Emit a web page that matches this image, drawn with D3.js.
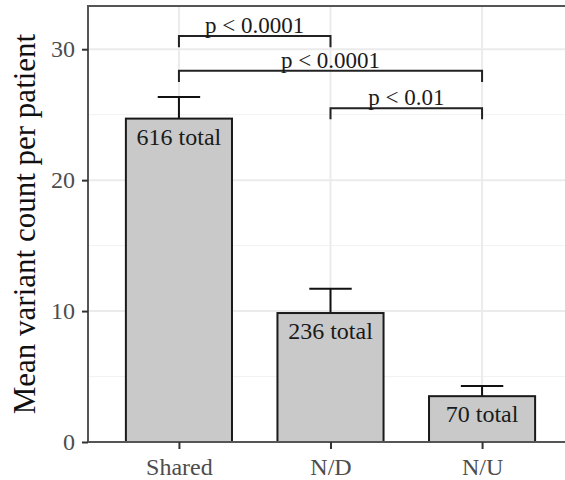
<!DOCTYPE html>
<html lang="en">

<head>
    <meta charset="UTF-8" />
    <script src="https://d3js.org/d3.v7.min.js"></script>
    <title>Mean variant count</title>
    <style>
        body { margin: 0; background: #fff; }
        text { font-family: "Liberation Serif", "Times New Roman", serif; }
    </style>
</head>

<body>
    <script>
        const width = 565,
            height = 480

        // data
        const categories = ['Shared', 'N/D', 'N/U']
        const means = [24.7, 9.85, 3.5]
        const upper = [26.35, 11.7, 4.27]
        const totals = ['616 total', '236 total', '70 total']
        const yTicks = [0, 10, 20, 30]
        const yMinor = [5, 15, 25]
        const pairs = [[0, 1], [0, 2], [1, 2]]
        const pairY = [31.0, 28.35, 25.5]
        const pairLabels = ['p < 0.0001', 'p < 0.0001', 'p < 0.01']

        const pLeft = 88, pTop = 6, pBottom = 442, pRight = 573

        const svg = d3.select('body').append('svg').attr('width', width).attr('height', height)

        const x = d3.scalePoint().domain(categories).range([pLeft, pRight]).padding(0.6)
        const y = d3.scaleLinear().domain([0, 33.3]).range([pBottom, pTop])
        const barW = x.step() * 0.7

        // grid
        const grid = svg.append('g')
        grid.selectAll('.minor').data(yMinor).enter().append('line')
            .attr('x1', pLeft).attr('x2', width).attr('y1', d => y(d)).attr('y2', d => y(d))
            .attr('stroke', '#f2f2f2').attr('stroke-width', 1)
        grid.selectAll('.major').data(yTicks).enter().append('line')
            .attr('x1', pLeft).attr('x2', width).attr('y1', d => y(d)).attr('y2', d => y(d))
            .attr('stroke', '#ebebeb').attr('stroke-width', 2)
        grid.selectAll('.vert').data(categories).enter().append('line')
            .attr('x1', d => x(d)).attr('x2', d => x(d)).attr('y1', pTop).attr('y2', pBottom)
            .attr('stroke', '#ebebeb').attr('stroke-width', 2)

        // error bars (upper only)
        const capW = barW * 0.4
        const eb = svg.append('g').attr('stroke', '#111').attr('stroke-width', 2)
        eb.selectAll('.v').data(categories).enter().append('line')
            .attr('x1', d => x(d)).attr('x2', d => x(d))
            .attr('y1', (d, i) => y(means[i])).attr('y2', (d, i) => y(upper[i]))
        eb.selectAll('.c').data(categories).enter().append('line')
            .attr('x1', d => x(d) - capW / 2).attr('x2', d => x(d) + capW / 2)
            .attr('y1', (d, i) => y(upper[i])).attr('y2', (d, i) => y(upper[i]))

        // bars
        svg.selectAll('.bar').data(categories).enter().append('rect')
            .attr('x', d => x(d) - barW / 2)
            .attr('y', (d, i) => y(means[i]))
            .attr('width', barW)
            .attr('height', (d, i) => y(0) - y(means[i]))
            .attr('fill', '#c9c9c9')
            .attr('stroke', '#1a1a1a')
            .attr('stroke-width', 2)

        svg.selectAll('.tot').data(categories).enter().append('text')
            .attr('x', d => x(d))
            .attr('y', (d, i) => y(means[i]) + 26)
            .attr('text-anchor', 'middle')
            .attr('font-size', 24)
            .attr('fill', '#1a1a1a')
            .text((d, i) => totals[i])

        // significance brackets
        const tip = 0.85
        const br = svg.append('g')
        pairs.forEach((p, i) => {
            const x1 = x(categories[p[0]]), x2 = x(categories[p[1]])
            const yy = y(pairY[i]), ye = y(pairY[i] - tip)
            br.append('path')
                .attr('d', `M${x1},${ye}V${yy}H${x2}V${ye}`)
                .attr('fill', 'none').attr('stroke', '#222').attr('stroke-width', 2)
            br.append('text')
                .attr('x', (x1 + x2) / 2).attr('y', yy - 3)
                .attr('text-anchor', 'middle').attr('font-size', 23).attr('fill', '#1a1a1a')
                .text(pairLabels[i])
        })

        // panel border + axes
        svg.append('path')
            .attr('d', `M${pLeft},${pBottom}V${pTop}H${width}`)
            .attr('fill', 'none').attr('stroke', '#555').attr('stroke-width', 2)
        svg.append('line').attr('x1', pLeft).attr('x2', width).attr('y1', pBottom).attr('y2', pBottom)
            .attr('stroke', '#555').attr('stroke-width', 2)

        const yAxis = svg.append('g')
            .attr('transform', `translate(${pLeft},0)`)
            .call(d3.axisLeft(y).tickValues(yTicks).tickSize(6).tickPadding(7))
        const xAxis = svg.append('g')
            .attr('transform', `translate(0,${pBottom})`)
            .call(d3.axisBottom(x).tickSize(7).tickPadding(9))
        ;[yAxis, xAxis].forEach(a => {
            a.select('.domain').remove()
            a.selectAll('line').attr('stroke', '#333').attr('stroke-width', 2)
            a.selectAll('text').attr('font-size', 24).attr('fill', '#4d4d4d')
                .attr('font-family', '"Liberation Serif", "Times New Roman", serif')
        })

        svg.append('text')
            .attr('transform', `translate(35,${(pTop + pBottom) / 2}) rotate(-90)`)
            .attr('text-anchor', 'middle')
            .attr('font-size', 31)
            .attr('fill', '#111')
            .text('Mean variant count per patient')
    </script>
</body>

</html>
